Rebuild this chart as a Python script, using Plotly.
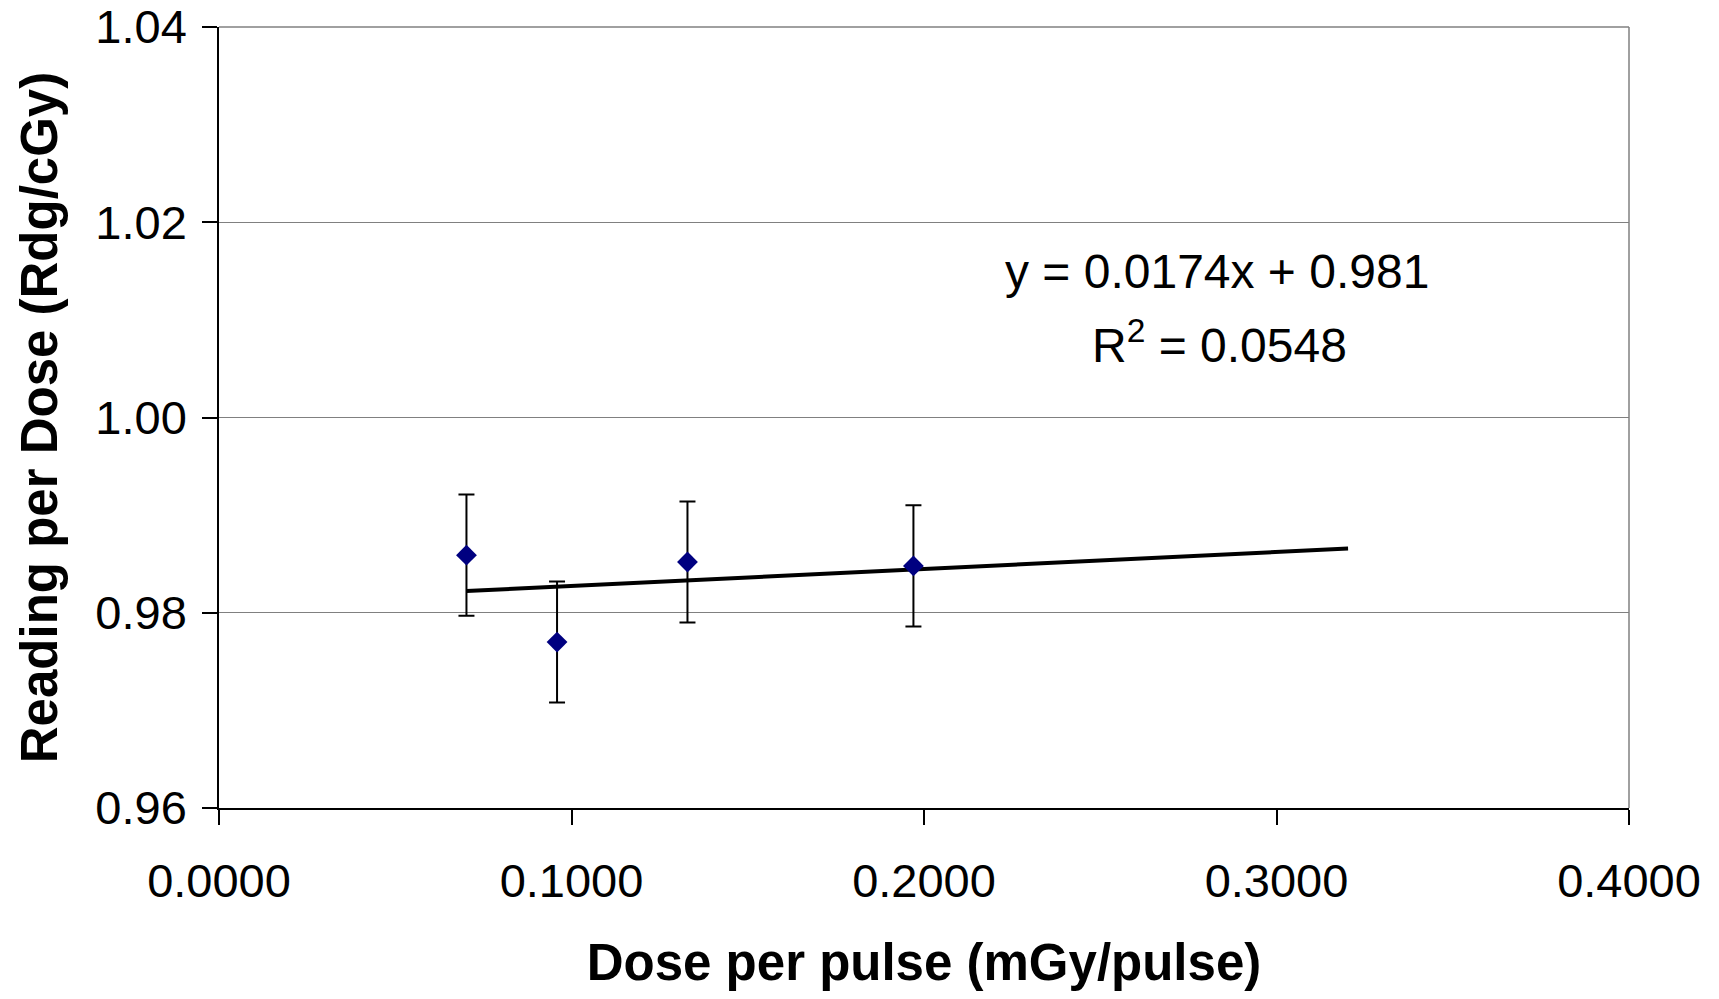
import plotly.graph_objects as go

dose = [0.0702, 0.0959, 0.1329, 0.1970]
reading = [0.9859, 0.9770, 0.9852, 0.9848]
err = [0.0062, 0.0062, 0.0062, 0.0062]
slope = 0.0174
intercept = 0.981
trend_x = [0.0702, 0.3203]
x_ticks = [0.0, 0.1, 0.2, 0.3, 0.4]
y_ticks = [0.96, 0.98, 1.00, 1.02, 1.04]

FONT = "Liberation Sans, Arial, sans-serif"

fig = go.Figure()
fig.add_trace(go.Scatter(
    x=trend_x, y=[slope * v + intercept for v in trend_x], mode="lines",
    line=dict(color="black", width=4), showlegend=False, hoverinfo="skip"))
fig.add_trace(go.Scatter(
    x=dose, y=reading, mode="markers",
    marker=dict(symbol="diamond", color="#000080", size=16),
    error_y=dict(type="data", array=err, visible=True, color="black",
                 thickness=2, width=8),
    showlegend=False))

fig.add_annotation(x=0.2831, y=1.0150, xref="x", yref="y",
                   text="y = 0.0174x + 0.981", showarrow=False,
                   font=dict(family=FONT, size=48, color="black"))
fig.add_annotation(x=0.2838, y=1.0077, xref="x", yref="y",
                   text="R<sup>2</sup> = 0.0548", showarrow=False,
                   font=dict(family=FONT, size=48, color="black"))

fig.update_layout(
    width=1719, height=999,
    margin=dict(l=219, r=90, t=27, b=191),
    paper_bgcolor="white", plot_bgcolor="white",
    font=dict(family=FONT, color="black", size=47),
    xaxis=dict(range=[0, 0.4], tickvals=x_ticks, tickformat=".4f",
               showgrid=False, zeroline=False, automargin=False,
               showline=True, linecolor="black", linewidth=1.5, mirror=False,
               ticks="outside", ticklen=15, tickcolor="black", tickwidth=1.5,
               ticklabelstandoff=16,
               tickfont=dict(size=47),
               title=dict(text="<b>Dose per pulse (mGy/pulse)</b>", standoff=38,
                          font=dict(size=51))),
    yaxis=dict(range=[0.96, 1.04], tickvals=y_ticks, tickformat=".2f",
               showgrid=True, gridcolor="#808080", gridwidth=1.2, zeroline=False,
               automargin=False,
               showline=True, linecolor="black", linewidth=1.5, mirror=False,
               ticks="outside", ticklen=15, tickcolor="black", tickwidth=1.5,
               ticklabelstandoff=6,
               tickfont=dict(size=47),
               title=dict(text="<b>Reading per Dose (Rdg/cGy)</b>", standoff=22,
                          font=dict(size=51))),
)
# top and right border (gray)
fig.add_shape(type="line", xref="paper", yref="paper", x0=1, x1=1, y0=0, y1=1,
              line=dict(color="#808080", width=1.5))
fig.add_shape(type="line", xref="paper", yref="paper", x0=0, x1=1, y0=1, y1=1,
              line=dict(color="#808080", width=1.5))

fig.write_html("out.html")
